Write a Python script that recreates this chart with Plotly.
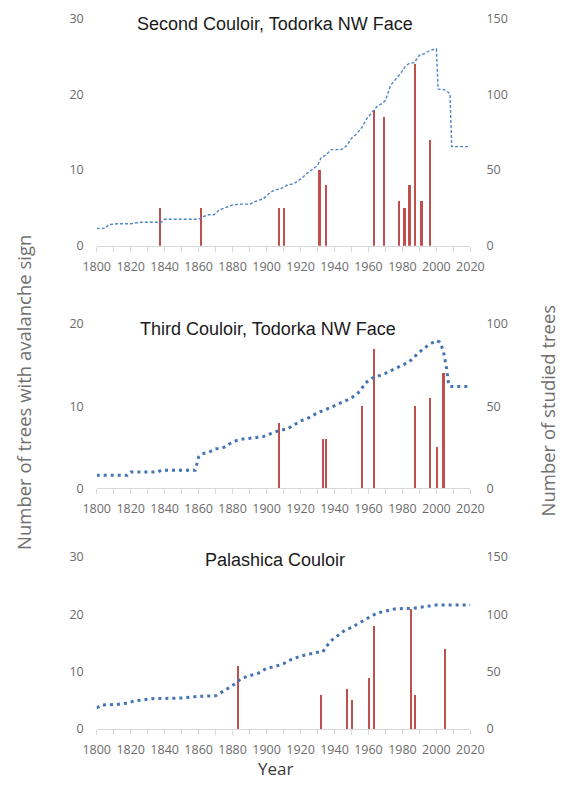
import plotly.graph_objects as go

# ---------------- data ----------------
# Panel 1: Second Couloir, Todorka NW Face
p1_bar_years = [1837, 1861, 1907, 1910, 1931, 1935, 1963, 1969, 1978, 1981, 1984, 1987, 1991, 1996]
p1_bar_values = [5, 5, 5, 5, 10, 8, 18, 17, 6, 5, 8, 24, 6, 14]
p1_line_years = [1800, 1805, 1807, 1812, 1820, 1825, 1838, 1840, 1860, 1862, 1866, 1869, 1872, 1876,
                 1880, 1885, 1890, 1894, 1898, 1902, 1905, 1908, 1912, 1916, 1920, 1924, 1928, 1930,
                 1932, 1935, 1938, 1944, 1947, 1950, 1953, 1956, 1959, 1962, 1965, 1968, 1970, 1973,
                 1976, 1979, 1982, 1984, 1987, 1990, 1993, 1996, 1999, 2000, 2001, 2005, 2008, 2009, 2020]
p1_line_values = [11.5, 11.5, 14, 14.5, 14.5, 15.5, 15.5, 17.5, 17.5, 19, 20.5, 20.5, 23.5, 25.5,
                  27, 27.5, 27.5, 29.5, 31, 35, 37, 37.5, 40, 41, 44, 48, 51, 53,
                  58, 60, 63.5, 63.5, 66, 71, 74, 78, 84, 88, 92, 94, 96, 106,
                  110, 114, 119, 120.5, 121, 126, 127, 129, 130, 130, 103.5, 103, 100.5, 65.5, 65.5]

# Panel 2: Third Couloir, Todorka NW Face
p2_bar_years = [1907, 1933, 1935, 1956, 1963, 1987, 1996, 2000, 2004]
p2_bar_values = [8, 6, 6, 10, 17, 10, 11, 5, 14]
p2_line_years = [1800, 1818, 1820, 1836, 1838, 1858, 1860, 1862, 1866, 1870, 1875, 1878, 1882, 1886,
                 1894, 1898, 1903, 1908, 1912, 1915, 1920, 1925, 1930, 1935, 1940, 1945, 1950, 1955,
                 1958, 1962, 1966, 1970, 1975, 1980, 1984, 1987, 1990, 1995, 2000, 2002, 2004, 2006,
                 2007, 2008, 2020]
p2_line_values = [8, 8, 10, 10, 11, 11, 19, 21, 22, 24, 25, 27, 29, 30,
                  31, 31.5, 33.5, 35.5, 36, 38, 41, 43, 46, 48, 50.5, 52.5, 55, 59,
                  64, 67, 68.5, 70, 72.5, 75, 77, 80, 83, 87, 90, 89, 84, 73,
                  65, 62, 62]

# Panel 3: Palashica Couloir
p3_bar_years = [1883, 1932, 1947, 1950, 1960, 1963, 1985, 1987, 2005]
p3_bar_values = [11, 6, 7, 5, 9, 18, 21, 6, 14]
p3_line_years = [1800, 1803, 1812, 1818, 1822, 1828, 1833, 1850, 1860, 1870, 1875, 1878, 1882, 1885,
                 1890, 1895, 1900, 1905, 1910, 1915, 1920, 1925, 1930, 1933, 1935, 1938, 1942, 1946,
                 1950, 1955, 1960, 1965, 1970, 1975, 1980, 1985, 1990, 1995, 2000, 2020]
p3_line_values = [18.5, 21, 21.5, 22.5, 24.5, 25.5, 26.5, 27, 28.5, 29, 33, 36, 40, 44,
                  46.5, 48.5, 53, 54.5, 57, 61, 63.5, 65.5, 67, 67, 71.5, 77, 81.5, 86,
                  88.5, 93, 97, 101, 103, 104.5, 105, 105, 106, 107, 108, 108]

titles = ["Second Couloir, Todorka NW Face", "Third Couloir, Todorka NW Face", "Palashica Couloir"]
left_ranges = [[0, 30], [0, 20], [0, 30]]
right_ranges = [[0, 150], [0, 100], [0, 150]]
left_dticks = [10, 10, 10]
right_dticks = [50, 50, 50]
x_range = [1800, 2020]

# ---------------- layout geometry (pixels) ----------------
W, H = 569, 785
x0_px, x1_px = 87, 480
panel_px = [(10, 242), (322, 490), (560, 736)]  # (top, baseline)

BAR = "#c0504d"
TICK = "#6b6b6b"

fig = go.Figure()

bars = [(p1_bar_years, p1_bar_values), (p2_bar_years, p2_bar_values), (p3_bar_years, p3_bar_values)]
lines = [(p1_line_years, p1_line_values), (p2_line_years, p2_line_values), (p3_line_years, p3_line_values)]
line_styles = [dict(width=1.4, dash="3px,2px", color="#4f86c6"),
               dict(width=3.0, dash="3px,4px", color="#4574b4"),
               dict(width=3.0, dash="3px,4px", color="#4574b4")]

for i in range(3):
    xa = "x" if i == 0 else f"x{i+1}"
    yl = "y" if i == 0 else f"y{2*i+1}"
    yr = f"y{2*i+2}"
    fig.add_trace(go.Bar(x=bars[i][0], y=bars[i][1], xaxis=xa, yaxis=yl, width=1.3,
                         marker=dict(color=BAR, line=dict(width=0)), showlegend=False))
    fig.add_trace(go.Scatter(x=lines[i][0], y=lines[i][1], xaxis=xa, yaxis=yr, mode="lines",
                             line=line_styles[i], showlegend=False))

layout = dict(width=W, height=H, margin=dict(l=0, r=0, t=0, b=0),
              paper_bgcolor="white", plot_bgcolor="white",
              font=dict(family="Open Sans, Noto Sans, sans-serif", color=TICK, size=12),
              bargap=0)

xdom = [x0_px / W, x1_px / W]
annotations = []
for i in range(3):
    top, base = panel_px[i]
    ydom = [1 - base / H, 1 - top / H]
    xk = "xaxis" if i == 0 else f"xaxis{i+1}"
    ylk = "yaxis" if i == 0 else f"yaxis{2*i+1}"
    yrk = f"yaxis{2*i+2}"
    xa_name = "x" if i == 0 else f"x{i+1}"
    yl_name = "y" if i == 0 else f"y{2*i+1}"
    layout[xk] = dict(domain=xdom, range=x_range, anchor=yl_name, dtick=20, tick0=1800,
                      showgrid=False, zeroline=False, showline=True, linecolor="#d9d9d9", linewidth=1,
                      ticks="outside", ticklen=5, tickcolor="#d9d9d9", ticklabelstandoff=4,
                      minor=dict(dtick=10, tick0=1800, ticks="outside", ticklen=5, tickcolor="#d9d9d9"),
                      tickfont=dict(size=12.5, color=TICK))
    layout[ylk] = dict(domain=ydom, range=left_ranges[i], anchor=xa_name, dtick=left_dticks[i],
                       showgrid=False, zeroline=False, showline=False, ticks="",
                       ticklabelstandoff=12, tickfont=dict(size=12.5, color=TICK))
    layout[yrk] = dict(domain=ydom, range=right_ranges[i], anchor=xa_name, overlaying=yl_name,
                       side="right", dtick=right_dticks[i], showgrid=False, zeroline=False,
                       showline=False, ticks="", ticklabelstandoff=15,
                       tickfont=dict(size=12.5, color=TICK))

title_pos = [(275, 15), (267, 327), (275, 563)]
for i in range(3):
    tx, ty = title_pos[i]
    annotations.append(dict(text=titles[i], x=tx / W, y=1 - ty / H, xref="paper", yref="paper",
                            showarrow=False, xanchor="center", yanchor="middle",
                            font=dict(family="Liberation Sans, Arial, sans-serif", size=18, color="#1a1a1a")))

annotations.append(dict(text="Number of trees with avalanche sign", x=10 / W, y=1 - 392 / H,
                        xref="paper", yref="paper", showarrow=False, textangle=-90,
                        xanchor="center", yanchor="middle",
                        font=dict(family="Open Sans, sans-serif", size=18.5, color="#707070")))
annotations.append(dict(text="Number of studied trees", x=561 / W, y=1 - 410 / H,
                        xref="paper", yref="paper", showarrow=False, textangle=-90,
                        xanchor="center", yanchor="middle",
                        font=dict(family="Open Sans, sans-serif", size=18.5, color="#707070")))
annotations.append(dict(text="Year", x=275 / W, y=1 - 776 / H, xref="paper", yref="paper",
                        showarrow=False, xanchor="center", yanchor="middle",
                        font=dict(family="Open Sans, sans-serif", size=17, color="#3a3a3a")))
layout["annotations"] = annotations

fig.update_layout(**layout)
fig.write_html("out.html", config={"displayModeBar": False},
               post_script="document.body.style.margin='0';document.body.style.overflow='hidden';")
